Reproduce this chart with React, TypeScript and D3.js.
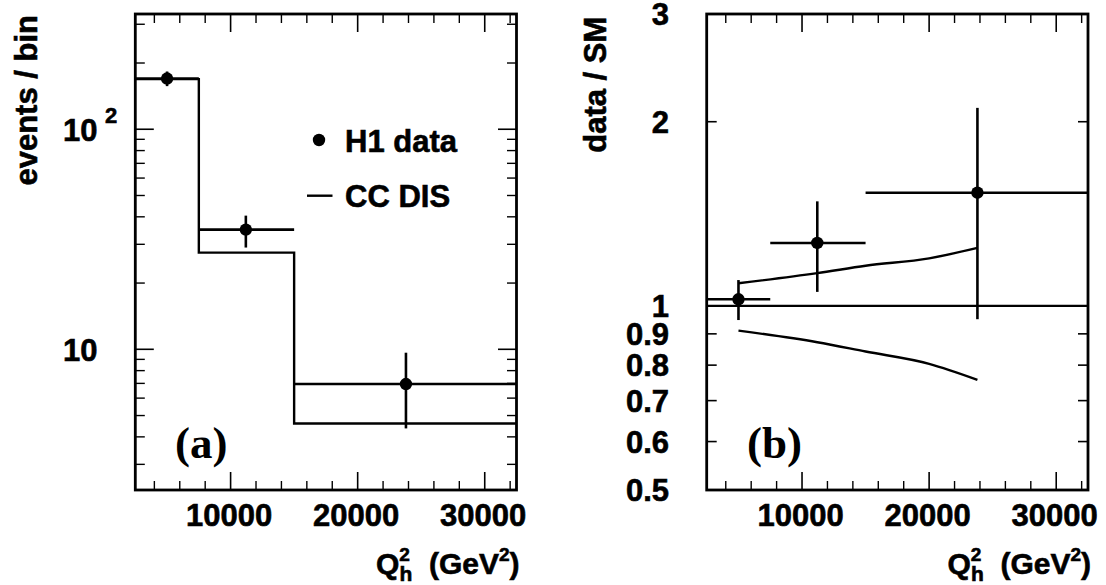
import React from "react";
import * as d3 from "d3";

// ---------- data ----------
const xDomain = [2500, 32500];
const binEdges = [2500, 7500, 15000, 32500];
const mcCounts = [169, 27.5, 4.6];
const dataQ2 = [5000, 11200, 23800];
const dataCounts = [170, 35, 6.95];
const dataCountsLo = [157, 29, 4.37];
const dataCountsHi = [183, 40.5, 9.65];
const ratio = [1.025, 1.267, 1.531];
const ratioLo = [0.948, 1.054, 0.951];
const ratioHi = [1.102, 1.482, 2.107];
const bandQ2 = [5000, 11200, 15000, 20000, 23800];
const bandUp = [1.089, 1.131, 1.163, 1.196, 1.244];
const bandDown = [0.911, 0.872, 0.842, 0.804, 0.757];
const xMajorTicks = [10000, 20000, 30000];
const xMinorTicks = [4000, 6000, 8000, 12000, 14000, 16000, 18000, 22000, 24000, 26000, 28000, 32000];
const leftMajorY = [10, 100];
const leftMinorY = [3, 4, 5, 6, 7, 8, 9, 20, 30, 40, 50, 60, 70, 80, 90, 200, 300];
const rightYTicks = [0.5, 0.6, 0.7, 0.8, 0.9, 1, 2, 3];
const rightYLabels = ["0.5", "0.6", "0.7", "0.8", "0.9", "1", "2", "3"];
const leftYDomain = [2.294, 334];
const rightYDomain = [0.5, 3];

const SANS = "'Liberation Sans', Arial, Helvetica, sans-serif";
const SERIF = "'Liberation Serif', 'Times New Roman', serif";
const FS = 31;

function T({ x, y, size = FS, anchor = "start", rot = 0, family = SANS, heavy = true, children }: any) {
  return (
    <text
      transform={`translate(${x},${y}) rotate(${rot})`}
      textAnchor={anchor}
      fontSize={size}
      fontFamily={family}
      fontWeight="bold"
      fill="#000"
      stroke={heavy ? "#000" : "none"}
      strokeWidth={heavy ? 0.6 : 0}
    >
      {children}
    </text>
  );
}

const TOP = 14, BOTTOM = 490;

function XAxis({ x, right }: any) {
  const els: any[] = [];
  xMajorTicks.forEach((t, i) => {
    const px = x(t);
    els.push(<line key={"mb" + i} x1={px} x2={px} y1={BOTTOM} y2={BOTTOM - 18} stroke="#000" strokeWidth={1.6} />);
    els.push(<line key={"mt" + i} x1={px} x2={px} y1={TOP} y2={TOP + 18} stroke="#000" strokeWidth={1.6} />);
    els.push(
      <T key={"ml" + i} x={px - 1.5} y={525.5} anchor="middle">
        {String(t)}
      </T>
    );
  });
  xMinorTicks.forEach((t, i) => {
    const px = x(t);
    els.push(<line key={"nb" + i} x1={px} x2={px} y1={BOTTOM} y2={BOTTOM - 9} stroke="#000" strokeWidth={1.4} />);
    els.push(<line key={"nt" + i} x1={px} x2={px} y1={TOP} y2={TOP + 9} stroke="#000" strokeWidth={1.4} />);
  });
  els.push(
    <text key="title" x={right + 3} y={574} textAnchor="end" fontSize={30} fontFamily={SANS} fontWeight="bold" stroke="#000" strokeWidth={0.6}>
      <tspan>Q</tspan>
      <tspan fontSize={19} dy={-13}>2</tspan>
      <tspan fontSize={21} dx={-10.5} dy={20}>h</tspan>
      <tspan dy={-7}>{"\u00a0\u00a0(GeV"}</tspan>
      <tspan fontSize={19} dy={-13}>2</tspan>
      <tspan dy={13}>)</tspan>
    </text>
  );
  return <g>{els}</g>;
}

function LeftPanel() {
  const L = 135.3, R = 516.5;
  const x = d3.scaleLinear().domain(xDomain).range([L, R]);
  const y = d3.scaleLog().domain(leftYDomain).range([BOTTOM, TOP]);
  const histPts: [number, number][] = [];
  mcCounts.forEach((v, i) => {
    histPts.push([x(binEdges[i]), y(v)]);
    histPts.push([x(binEdges[i + 1]), y(v)]);
  });
  const hist = d3.line()(histPts) as string;
  return (
    <g>
      {leftMajorY.map((t, i) => (
        <g key={"ly" + i}>
          <line x1={L} x2={L + 18.5} y1={y(t)} y2={y(t)} stroke="#000" strokeWidth={1.6} />
          <line x1={R} x2={R - 18.5} y1={y(t)} y2={y(t)} stroke="#000" strokeWidth={1.6} />
        </g>
      ))}
      {leftMinorY.map((t, i) => (
        <g key={"lm" + i}>
          <line x1={L} x2={L + 9.5} y1={y(t)} y2={y(t)} stroke="#000" strokeWidth={1.4} />
          <line x1={R} x2={R - 9.5} y1={y(t)} y2={y(t)} stroke="#000" strokeWidth={1.4} />
        </g>
      ))}
      <T x={97.5} y={y(10) + 11.5} anchor="end">10</T>
      <T x={97.5} y={y(100) + 12} anchor="end">10</T>
      <T x={105} y={y(100) - 6.5} size={22} anchor="start">2</T>
      <T x={37} y={15} anchor="end" rot={-90}>events / bin</T>
      <XAxis x={x} right={R} />
      <path d={hist} fill="none" stroke="#000" strokeWidth={2.4} />
      {dataQ2.map((q, i) => (
        <g key={"d" + i}>
          <line x1={x(binEdges[i])} x2={x(binEdges[i + 1])} y1={y(dataCounts[i])} y2={y(dataCounts[i])} stroke="#000" strokeWidth={2.6} />
          <line x1={x(q)} x2={x(q)} y1={y(dataCountsLo[i])} y2={y(dataCountsHi[i])} stroke="#000" strokeWidth={2.6} />
          <circle cx={x(q)} cy={y(dataCounts[i])} r={6.2} fill="#000" />
        </g>
      ))}
      <circle cx={319} cy={140} r={6.2} fill="#000" />
      <T x={345} y={151.5}>H1 data</T>
      <line x1={307} x2={332.5} y1={195.7} y2={195.7} stroke="#000" strokeWidth={2.4} />
      <T x={345} y={207.3}>CC DIS</T>
      <T x={175} y={458} size={45} family={SERIF} heavy={false}>(a)</T>
      <rect x={L} y={TOP} width={R - L} height={BOTTOM - TOP} fill="none" stroke="#000" strokeWidth={2.8} />
    </g>
  );
}

function RightPanel() {
  const L = 706.7, R = 1088;
  const x = d3.scaleLinear().domain(xDomain).range([L, R]);
  const y = d3.scaleLog().domain(rightYDomain).range([BOTTOM, TOP]);
  const line = d3
    .line<number>()
    .x((_, i) => x(bandQ2[i]))
    .y((v) => y(v))
    .curve(d3.curveMonotoneX);
  return (
    <g>
      {rightYTicks.map((t, i) => (
        <g key={"ry" + i}>
          <line x1={L} x2={L + 10} y1={y(t)} y2={y(t)} stroke="#000" strokeWidth={1.6} />
          <line x1={R} x2={R - 10} y1={y(t)} y2={y(t)} stroke="#000" strokeWidth={1.6} />
          <T x={669} y={y(t) + 11.3} anchor="end">{rightYLabels[i]}</T>
        </g>
      ))}
      <T x={606} y={16.7} anchor="end" rot={-90}>data / SM</T>
      <XAxis x={x} right={R} />
      <line x1={L} x2={R} y1={y(1)} y2={y(1)} stroke="#000" strokeWidth={2.4} />
      <path d={line(bandUp) as string} fill="none" stroke="#000" strokeWidth={2.4} />
      <path d={line(bandDown) as string} fill="none" stroke="#000" strokeWidth={2.4} />
      {dataQ2.map((q, i) => (
        <g key={"r" + i}>
          <line x1={x(binEdges[i])} x2={x(binEdges[i + 1])} y1={y(ratio[i])} y2={y(ratio[i])} stroke="#000" strokeWidth={2.6} />
          <line x1={x(q)} x2={x(q)} y1={y(ratioLo[i])} y2={y(ratioHi[i])} stroke="#000" strokeWidth={2.6} />
          <circle cx={x(q)} cy={y(ratio[i])} r={6.2} fill="#000" />
        </g>
      ))}
      <T x={747} y={458} size={45} family={SERIF} heavy={false}>(b)</T>
      <rect x={L} y={TOP} width={R - L} height={BOTTOM - TOP} fill="none" stroke="#000" strokeWidth={2.8} />
    </g>
  );
}

export default function App() {
  return (
    <svg width={1106} height={585} style={{ position: "absolute", left: 0, top: 0, background: "#fff" }}>
      <rect width={1106} height={585} fill="#fff" />
      <LeftPanel />
      <RightPanel />
    </svg>
  );
}
